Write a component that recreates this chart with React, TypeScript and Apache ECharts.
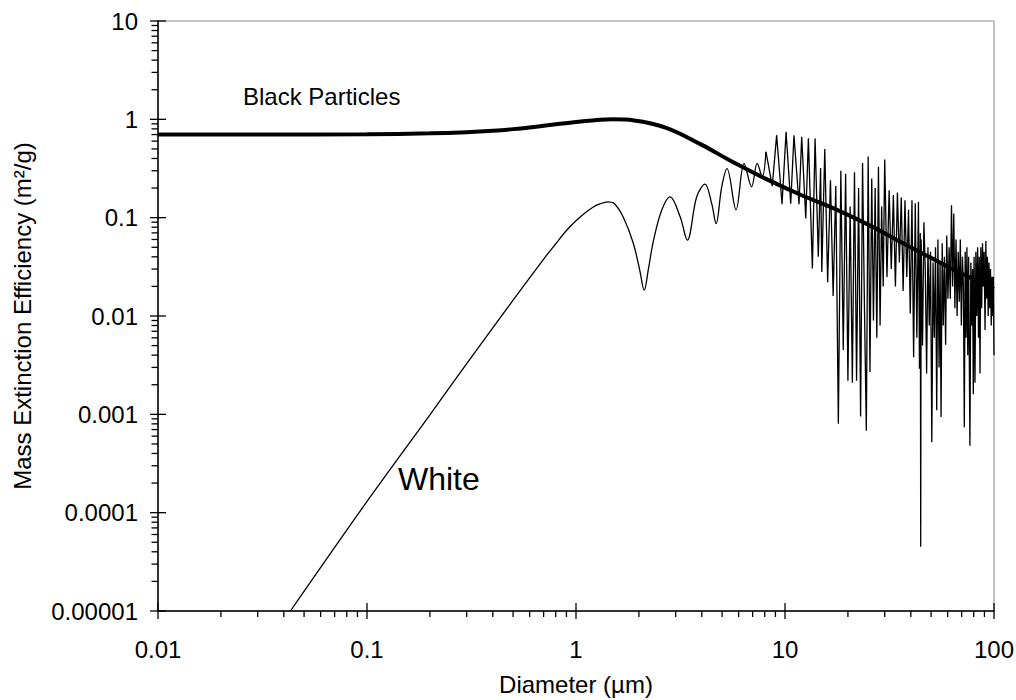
import React, { useEffect, useRef } from 'react';
import * as echarts from 'echarts';

const X_MIN = 0.01;
const X_MAX = 100;
const Y_MIN = 0.00001;
const Y_MAX = 10;

const xTickLabels = ['0.01', '0.1', '1', '10', '100'];
const yTickLabels = ['0.00001', '0.0001', '0.001', '0.01', '0.1', '1', '10'];
const xMajorTicks = [0.01, 0.1, 1, 10, 100];
const yMajorTicks = [0.00001, 0.0001, 0.001, 0.01, 0.1, 1, 10];
const minorMantissas = [2, 3, 4, 5, 6, 7, 8, 9];
const xDecades = [0.01, 0.1, 1, 10];
const yDecades = [0.00001, 0.0001, 0.001, 0.01, 0.1, 1];

// Black particles (thick, smooth)
const blackParticles: number[][] = [
  [0.01, 0.7], [0.03, 0.7], [0.1, 0.705], [0.2, 0.72], [0.3, 0.74], [0.4, 0.765], [0.5, 0.795],
  [0.7, 0.86], [1.0, 0.94], [1.3, 0.99], [1.5, 1.0], [1.9, 0.975], [2.7, 0.82], [4.0, 0.55],
  [5.6, 0.37], [8.2, 0.245], [11.8, 0.172], [17, 0.125], [25, 0.085], [35, 0.058], [50, 0.039],
  [70, 0.027], [100, 0.0188],
];

// White particles, smooth part (Rayleigh rise and first oscillations)
const whiteSmooth: number[][] = [
  [0.043, 0.00001], [0.1, 0.00013], [0.2, 0.00099], [0.3, 0.00328], [0.5, 0.0145],
  [0.724, 0.0415], [0.8, 0.0543], [0.9, 0.074], [1.0, 0.093], [1.1, 0.111], [1.2, 0.127],
  [1.3, 0.138], [1.42, 0.145], [1.52, 0.14], [1.68, 0.102], [1.88, 0.055],
  [2.02, 0.029], [2.12, 0.0183], [2.22, 0.03], [2.35, 0.059], [2.57, 0.119], [2.82, 0.163],
  [3.15, 0.102], [3.41, 0.059], [3.78, 0.163], [4.14, 0.219], [4.46, 0.139], [4.68, 0.087],
  [4.98, 0.206], [5.28, 0.315], [5.83, 0.12], [6.37, 0.356], [6.92, 0.206], [7.36, 0.356],
  [7.78, 0.26], [8.11, 0.468],
];

// White particles, noisy part (large diameters)
const whiteNoisy: number[][] = [
  [8.11, 0.468], [8.69, 0.209], [9.12, 0.69], [9.68, 0.137], [10.12, 0.746], [10.65, 0.139],
  [11.04, 0.69], [11.67, 0.137], [12.02, 0.664], [12.57, 0.098], [12.94, 0.64], [13.52, 0.0304],
  [13.93, 0.64], [14.43, 0.04], [14.8, 0.32],
  [15.0, 0.028], [15.5, 0.5], [16.0, 0.022], [16.5, 0.24], [17.0, 0.016], [17.5, 0.21],
  [18.0, 0.0008], [18.5, 0.3], [19.0, 0.0045], [19.5, 0.28], [20.0, 0.0022], [20.5, 0.13],
  [21.0, 0.0021], [21.5, 0.29], [22.0, 0.0022], [22.5, 0.2], [23.0, 0.00095], [23.5, 0.36],
  [24.0, 0.012], [24.5, 0.00068], [25.0, 0.42], [25.5, 0.0027], [26.0, 0.25], [26.5, 0.009],
  [27.0, 0.2], [27.5, 0.006], [28.0, 0.33], [28.5, 0.008], [29.0, 0.13], [29.5, 0.02], [30.0, 0.39],
  [30.75, 0.025], [31.5, 0.19], [32.25, 0.03], [33.0, 0.17], [33.75, 0.02], [34.5, 0.18],
  [35.25, 0.035], [36.0, 0.16], [36.75, 0.018], [37.5, 0.15], [38.25, 0.025], [39.0, 0.12],
  [39.75, 0.0106], [40.5, 0.15], [41.25, 0.0038], [42.0, 0.14], [42.75, 0.006], [43.5, 0.145],
  [44.0, 0.0029], [44.4, 0.07], [44.6, 0.000045], [44.8, 0.06], [45.5, 0.005], [46.2, 0.09],
  [46.9, 0.03], [47.6, 0.0026], [48.3, 0.05], [49.0, 0.008], [49.7, 0.045], [50.4, 0.00052],
  [51.1, 0.035], [51.8, 0.006], [52.5, 0.05], [53.2, 0.0011], [53.9, 0.06], [54.6, 0.003],
  [55.2, 0.035], [55.8, 0.00094], [56.5, 0.055], [57.2, 0.008], [57.9, 0.04], [58.7, 0.0051],
  [59.4, 0.066], [60.2, 0.015],
  [61.0, 0.05], [61.8, 0.015], [62.6, 0.134], [63.4, 0.02], [64.2, 0.11], [65.0, 0.012],
  [65.8, 0.06], [66.6, 0.01], [67.4, 0.045], [68.2, 0.014], [69.0, 0.06], [69.8, 0.008],
  [70.6, 0.04], [71.4, 0.02], [72.1, 0.00074], [72.8, 0.045], [73.5, 0.006], [74.2, 0.05],
  [74.9, 0.004], [75.6, 0.04], [76.7, 0.00048], [77.5, 0.035], [78.3, 0.008], [79.0, 0.03],
  [79.6, 0.0016], [80.3, 0.04], [81.1, 0.0021], [81.9, 0.045], [82.7, 0.01], [83.5, 0.05],
  [84.3, 0.006], [85.0, 0.04], [85.7, 0.0026], [86.5, 0.05], [87.3, 0.012], [88.1, 0.055],
  [88.9, 0.02], [89.7, 0.045], [90.6, 0.0072], [91.4, 0.058], [92.2, 0.015], [93.0, 0.04],
  [93.8, 0.01], [94.6, 0.035], [95.4, 0.012], [96.2, 0.03], [97.0, 0.008], [97.8, 0.025],
  [98.6, 0.01], [99.3, 0.025], [100, 0.004],
];

const FONT = '"Liberation Sans", Arial, Helvetica, sans-serif';

function buildTicks() {
  const xTicks: number[][] = [];
  xMajorTicks.forEach((v) => xTicks.push([v, Y_MIN, 1]));
  xDecades.forEach((d) => minorMantissas.forEach((m) => xTicks.push([m * d, Y_MIN, 0])));
  const yTicks: number[][] = [];
  yMajorTicks.forEach((v) => yTicks.push([X_MIN, v, 1]));
  yDecades.forEach((d) => minorMantissas.forEach((m) => yTicks.push([X_MIN, m * d, 0])));
  return { xTicks, yTicks };
}

export default function App() {
  const ref = useRef<HTMLDivElement>(null);
  useEffect(() => {
    if (!ref.current) return;
    const chart = echarts.init(ref.current, undefined, { renderer: 'svg' });
    const { xTicks, yTicks } = buildTicks();
    const option: any = {
      animation: false,
      backgroundColor: '#ffffff',
      grid: {
        left: 158, right: 22, top: 21, bottom: 89,
        containLabel: false, outerBoundsMode: 'none',
        show: true, borderColor: '#8a8a8a', borderWidth: 1, backgroundColor: 'transparent',
      },
      xAxis: {
        type: 'log', logBase: 10, min: X_MIN, max: X_MAX,
        name: 'Diameter (µm)', nameLocation: 'middle', nameGap: 61,
        nameTextStyle: { fontFamily: FONT, fontSize: 24, color: '#000' },
        axisLine: { show: true, lineStyle: { color: '#000', width: 1.5 } },
        axisTick: { show: false }, splitLine: { show: false }, minorTick: { show: false },
        axisLabel: {
          fontFamily: FONT, fontSize: 24, color: '#000', margin: 26,
          formatter: (v: number) => xTickLabels[Math.round(Math.log10(v)) + 2] ?? '',
        },
      },
      yAxis: {
        type: 'log', logBase: 10, min: Y_MIN, max: Y_MAX,
        name: 'Mass Extinction Efficiency (m²/g)', nameLocation: 'middle', nameGap: 124, nameRotate: 90,
        nameTextStyle: { fontFamily: FONT, fontSize: 24, color: '#000' },
        axisLine: { show: true, lineStyle: { color: '#000', width: 1.5 } },
        axisTick: { show: false }, splitLine: { show: false }, minorTick: { show: false },
        axisLabel: {
          fontFamily: FONT, fontSize: 24, color: '#000', margin: 20,
          formatter: (v: number) => yTickLabels[Math.round(Math.log10(v)) + 5] ?? '',
        },
      },
      series: [
        {
          name: 'White', type: 'line', data: whiteSmooth, smooth: 0.35,
          symbol: 'none', lineStyle: { color: '#000', width: 1.3 }, z: 2,
        },
        {
          name: 'White noisy', type: 'line', data: whiteNoisy, smooth: false,
          symbol: 'none', lineStyle: { color: '#000', width: 1.3 }, z: 2,
        },
        {
          name: 'Black Particles', type: 'line', data: blackParticles, smooth: 0.4,
          symbol: 'none', lineStyle: { color: '#000', width: 4 }, z: 3,
        },
        {
          type: 'custom', data: xTicks, encode: { x: 0, y: 1 }, silent: true, clip: false, z: 5,
          renderItem: (_p: any, api: any) => {
            const pt = api.coord([api.value(0), api.value(1)]);
            const major = api.value(2) === 1;
            return {
              type: 'line',
              shape: { x1: pt[0], y1: major ? pt[1] - 8 : pt[1], x2: pt[0], y2: pt[1] + (major ? 8 : 6) },
              style: { stroke: '#000', lineWidth: 1.3 },
            };
          },
        },
        {
          type: 'custom', data: yTicks, encode: { x: 0, y: 1 }, silent: true, clip: false, z: 5,
          renderItem: (_p: any, api: any) => {
            const pt = api.coord([api.value(0), api.value(1)]);
            const major = api.value(2) === 1;
            return {
              type: 'line',
              shape: { x1: pt[0] - (major ? 8 : 6.5), y1: pt[1], x2: major ? pt[0] + 8 : pt[0], y2: pt[1] },
              style: { stroke: '#000', lineWidth: 1.3 },
            };
          },
        },
      ],
      graphic: [
        {
          type: 'text', left: 243, top: 84,
          style: { text: 'Black Particles', fontFamily: FONT, fontSize: 24, fill: '#000' },
        },
        {
          type: 'text', left: 398, top: 463,
          style: { text: 'White', fontFamily: FONT, fontSize: 32, fill: '#000' },
        },
      ],
    };
    chart.setOption(option);
    return () => chart.dispose();
  }, []);
  return (
    <div
      ref={ref}
      style={{ position: 'absolute', left: 0, top: 0, width: 1016, height: 700, background: '#fff' }}
    />
  );
}
